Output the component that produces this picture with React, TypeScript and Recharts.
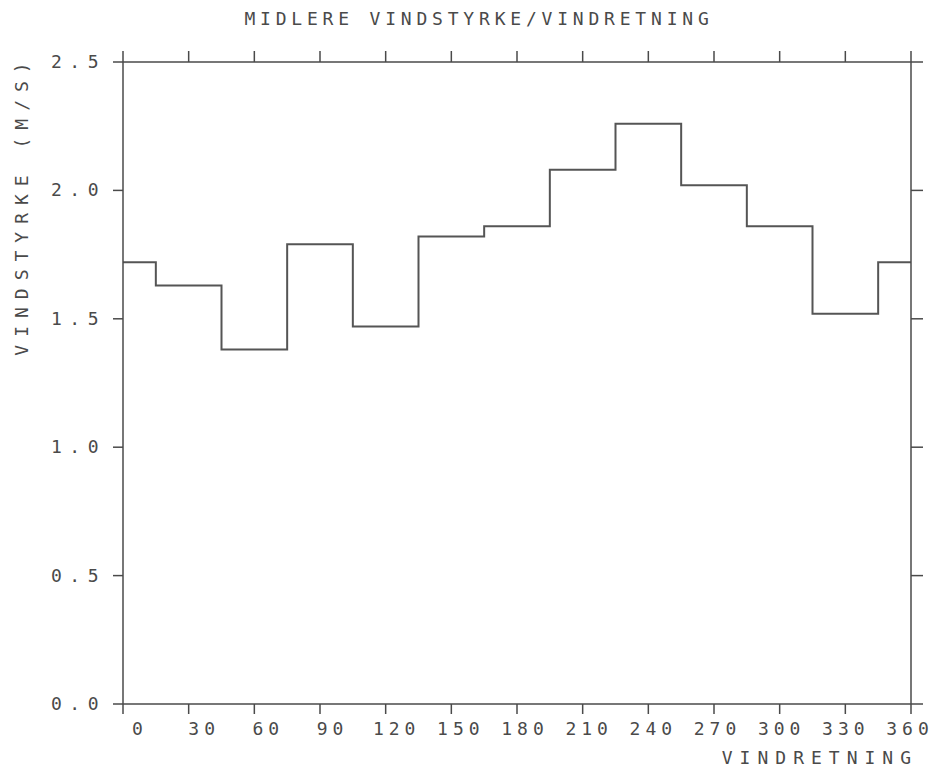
import { LineChart, Line, XAxis, YAxis } from 'recharts';

// mean wind speed per 30° direction sector (360 repeats the north sector)
const directions = [0, 30, 60, 90, 120, 150, 180, 210, 240, 270, 300, 330, 360];
const speeds = [1.72, 1.63, 1.38, 1.79, 1.47, 1.82, 1.86, 2.08, 2.26, 2.02, 1.86, 1.52, 1.72];
const speedTicks = [0, 0.5, 1.0, 1.5, 2.0, 2.5];

const data = directions.map((d, i) => ({ retning: d, styrke: speeds[i] }));

const FONT = '"DejaVu Sans Mono", monospace';
const INK = '#4a4a4a';

const DirTick = ({ x, y, payload }: { x?: number; y?: number; payload?: { value: number } }) => {
  const v = payload?.value ?? 0;
  // labels sit a touch right of the tick at 0 and drift left toward 360
  const shift = 17 - (v / 360) * 18;
  return (
    <text x={(x ?? 0) + shift} y={(y ?? 0) + 19} textAnchor="middle" fill={INK}
      style={{ fontFamily: FONT, fontSize: 18, letterSpacing: 5 }}>
      {v}
    </text>
  );
};

const SpeedTick = ({ y, payload }: { y?: number; payload?: { value: number } }) => (
  <text x={106} y={(y ?? 0) + 6} textAnchor="end" fill={INK}
    style={{ fontFamily: FONT, fontSize: 18, letterSpacing: 7.5 }}>
    {(payload?.value ?? 0).toFixed(1)}
  </text>
);

const blank = () => '';

export default function App() {
  return (
    <div style={{ position: 'absolute', left: 0, top: 0, width: 934, height: 767, background: '#fff' }}>
      <LineChart width={934} height={767} data={data} margin={{ top: 61, right: 22, bottom: 33, left: 63 }}>
        <XAxis xAxisId="bottom" dataKey="retning" type="number" domain={[0, 360]} ticks={directions}
          height={30} tickSize={10} stroke={INK} strokeWidth={1.5} tick={<DirTick />} interval={0} />
        <XAxis xAxisId="top" orientation="top" dataKey="retning" type="number" domain={[0, 360]} ticks={directions}
          height={1} tickSize={11} stroke={INK} strokeWidth={1.5} tickFormatter={blank} interval={0} />
        <YAxis yAxisId="left" domain={[0, 2.5]} ticks={speedTicks} width={60} tickSize={10}
          stroke={INK} strokeWidth={1.5} tick={<SpeedTick />} interval={0} />
        <YAxis yAxisId="right" orientation="right" domain={[0, 2.5]} ticks={speedTicks} width={1} tickSize={12}
          stroke={INK} strokeWidth={1.5} tickFormatter={blank} interval={0} />
        <Line xAxisId="top" yAxisId="right" type="step" dataKey="styrke" stroke="none"
          dot={false} isAnimationActive={false} />
        <Line xAxisId="bottom" yAxisId="left" type="step" dataKey="styrke" stroke="#555" strokeWidth={2}
          dot={false} isAnimationActive={false} />
        <text x={479} y={25} textAnchor="middle" fill={INK}
          style={{ fontFamily: FONT, fontSize: 18, letterSpacing: 4.8 }}>
          MIDLERE VINDSTYRKE/VINDRETNING
        </text>
        <text x={918} y={764} textAnchor="end" fill={INK}
          style={{ fontFamily: FONT, fontSize: 18, letterSpacing: 7 }}>
          VINDRETNING
        </text>
        <text x={28} y={205} textAnchor="middle" fill={INK} transform="rotate(-90 28 205)"
          style={{ fontFamily: FONT, fontSize: 18, letterSpacing: 8 }}>
          VINDSTYRKE (M/S)
        </text>
      </LineChart>
    </div>
  );
}
